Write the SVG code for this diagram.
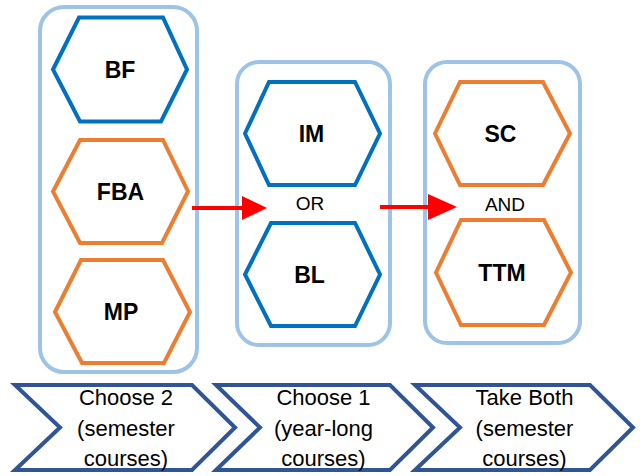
<svg xmlns="http://www.w3.org/2000/svg" width="644" height="476" viewBox="0 0 644 476">
<style>
.box{fill:#fff;stroke:#9DC3E6;stroke-width:4}
.hb{fill:#fff;stroke:#0070C0;stroke-width:4;stroke-linejoin:miter}
.ho{fill:#fff;stroke:#ED7D31;stroke-width:4;stroke-linejoin:miter}
.lbl{font-family:"Liberation Sans",Arial,sans-serif;font-weight:bold;font-size:23px;fill:#000;text-anchor:middle}
.op{font-family:"Liberation Sans",Arial,sans-serif;font-size:19px;fill:#000;text-anchor:middle}
.chev{fill:#fff;stroke:#2F5597;stroke-width:4;stroke-linejoin:miter}
.ct{font-family:"Liberation Sans",Arial,sans-serif;font-size:22px;fill:#000;text-anchor:middle}
.arr{stroke:#FF0000;stroke-width:4;fill:none}
</style>
<rect width="644" height="476" fill="#fff"/>
<g id="containers">
<rect class="box" x="40" y="7" width="157" height="365" rx="24"/>
<rect class="box" x="237" y="62" width="153" height="283" rx="22"/>
<rect class="box" x="425" y="62" width="155" height="281" rx="22"/>
</g>
<g id="BF"><polygon class="hb" points="53,69.5 79,17.5 163,17.5 187,69.5 161,121.5 80,121.5"/><text class="lbl" x="120" y="78">BF</text></g>
<g id="FBA"><polygon class="ho" points="53,191.5 80,140 163,140 188,191.5 162,243 80,243"/><text class="lbl" x="120.5" y="199.5">FBA</text></g>
<g id="MP"><polygon class="ho" points="55,312 81,260 163,260 190,312 164,363 82,363"/><text class="lbl" x="121" y="320">MP</text></g>
<g id="IM"><polygon class="hb" points="245,133.5 269,82 355,82 380,133.5 355,185 269,185"/><text class="lbl" x="311.5" y="141.5">IM</text></g>
<g id="BL"><polygon class="hb" points="245,274.5 271,223 355,223 380,274.5 355,326 271,326"/><text class="lbl" x="309.5" y="282.5">BL</text></g>
<g id="SC"><polygon class="ho" points="435,133.5 460,82 543,82 570,133.5 543,185 460,185"/><text class="lbl" x="500.5" y="141.5">SC</text></g>
<g id="TTM"><polygon class="ho" points="436,272.5 461,220 544,220 571,272.5 544,325 461,325"/><text class="lbl" x="502" y="280.5">TTM</text></g>
<g id="ops">
<text class="op" x="310" y="210">OR</text>
<text class="op" x="505" y="211">AND</text>
</g>
<g id="connectors">
<line class="arr" x1="192" y1="208" x2="244" y2="208"/>
<polygon fill="#FF0000" points="242,196 267,208 242,220"/>
<line class="arr" x1="380" y1="207" x2="430" y2="207"/>
<polygon fill="#FF0000" points="428,194 457,207 428,220"/>
</g>
<g id="step1"><polygon class="chev" points="15,385 192,385 235,427.5 192,470 15,470 60,427.5"/>
<text class="ct" x="126" y="405">Choose 2</text><text class="ct" x="126" y="436">(semester</text><text class="ct" x="126" y="466">courses)</text></g>
<g id="step2"><polygon class="chev" points="216,385 390,385 433,427.5 390,470 216,470 260,427.5"/>
<text class="ct" x="323.5" y="405">Choose 1</text><text class="ct" x="323.5" y="436">(year-long</text><text class="ct" x="323.5" y="466">courses)</text></g>
<g id="step3"><polygon class="chev" points="415,385 590,385 633,427.5 590,470 415,470 460,427.5"/>
<text class="ct" x="524.5" y="405">Take Both</text><text class="ct" x="524.5" y="436">(semester</text><text class="ct" x="524.5" y="466">courses)</text></g>
</svg>
